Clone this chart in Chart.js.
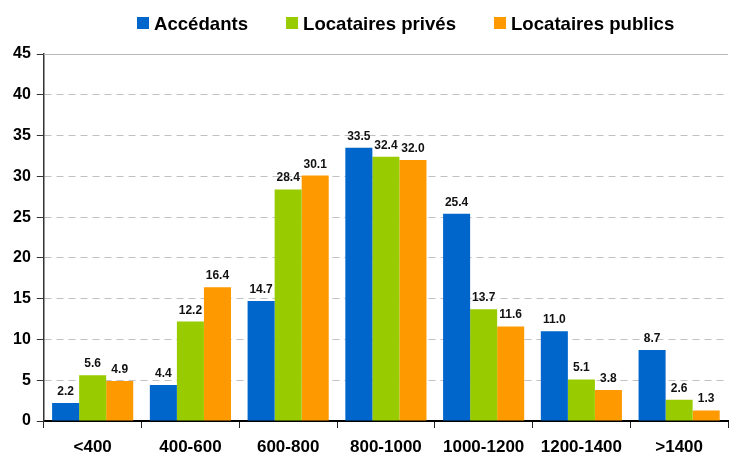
<!DOCTYPE html>
<html>
<head>
<meta charset="utf-8">
<script src="https://cdn.jsdelivr.net/npm/chart.js@4/dist/chart.umd.min.js"></script>
<style>
  html, body { margin: 0; padding: 0; background: #fff; }
  #wrap { width: 730px; height: 452px; }
</style>
</head>
<body>
<div id="wrap"><canvas id="chart"></canvas></div>
<script>
const categories = ['<400', '400-600', '600-800', '800-1000', '1000-1200', '1200-1400', '>1400'];
const accedants = [2.2, 4.4, 14.7, 33.5, 25.4, 11.0, 8.7];
const locPrives = [5.6, 12.2, 28.4, 32.4, 13.7, 5.1, 2.6];
const locPublics = [4.9, 16.4, 30.1, 32.0, 11.6, 3.8, 1.3];

const FONT = '"Liberation Sans", Arial, sans-serif';

// value above each bar
const valueLabels = {
    id: 'valueLabels',
    afterDatasetsDraw(chart) {
        const ctx = chart.ctx;
        ctx.save();
        ctx.font = 'bold 12px ' + FONT;
        ctx.fillStyle = '#111';
        ctx.textAlign = 'center';
        ctx.textBaseline = 'alphabetic';
        chart.data.datasets.forEach((ds, i) => {
            chart.getDatasetMeta(i).data.forEach((bar, j) => {
                ctx.fillText(ds.data[j].toFixed(1), bar.x, bar.y - 8);
            });
        });
        ctx.restore();
    }
};

// legend drawn by hand so the spacing matches (box close to text, wide gaps)
const topLegend = {
    id: 'topLegend',
    afterDraw(chart) {
        const ctx = chart.ctx;
        ctx.save();
        ctx.font = 'bold 18.6px ' + FONT;
        ctx.textBaseline = 'alphabetic';
        let x = 137;
        chart.data.datasets.forEach(ds => {
            ctx.fillStyle = ds.backgroundColor;
            ctx.fillRect(x, 17, 12, 12);
            ctx.fillStyle = '#000';
            ctx.fillText(ds.label, x + 17, 30);
            x += 17 + ctx.measureText(ds.label).width + 38;
        });
        ctx.restore();
    }
};

// solid line along the top of the plot (the 45 gridline is not dashed)
const topBorder = {
    id: 'topBorder',
    afterDraw(chart) {
        const { ctx, chartArea } = chart;
        ctx.save();
        ctx.strokeStyle = '#b8b8b8';
        ctx.lineWidth = 1;
        ctx.beginPath();
        ctx.moveTo(chartArea.left, chartArea.top + 0.5);
        ctx.lineTo(chartArea.right, chartArea.top + 0.5);
        ctx.stroke();
        ctx.restore();
    }
};

new Chart(document.getElementById('chart').getContext('2d'), {
    type: 'bar',
    data: {
        labels: categories,
        datasets: [
            { label: 'Accédants', data: accedants, backgroundColor: '#0066CC' },
            { label: 'Locataires privés', data: locPrives, backgroundColor: '#99CC00' },
            { label: 'Locataires publics', data: locPublics, backgroundColor: '#FF9900' }
        ]
    },
    options: {
        responsive: true,
        maintainAspectRatio: false,
        animation: false,
        layout: { padding: { left: 7, right: 2, top: 54, bottom: 0 } },
        datasets: { bar: { categoryPercentage: 0.83, barPercentage: 1.0 } },
        plugins: {
            legend: { display: false },
            tooltip: { enabled: false }
        },
        scales: {
            x: {
                afterFit(scale) { scale.height = 31; },
                grid: { display: true, offset: true, drawOnChartArea: false, color: '#222', tickLength: 7 },
                border: { color: '#000', width: 2 },
                ticks: {
                    color: '#000',
                    padding: 11,
                    font: { family: FONT, size: 17, weight: 'bold', lineHeight: 1 }
                }
            },
            y: {
                min: 0,
                max: 45,
                ticks: {
                    stepSize: 5,
                    color: '#000',
                    padding: 6,
                    font: { family: FONT, size: 16, weight: 'bold' }
                },
                grid: {
                    color: '#c0c0c0',
                    tickColor: '#333',
                    tickLength: 7,
                    tickBorderDash: []
                },
                border: { color: '#333', width: 1.5, dash: [7, 5] }
            }
        }
    },
    plugins: [valueLabels, topLegend, topBorder]
});
</script>
</body>
</html>
